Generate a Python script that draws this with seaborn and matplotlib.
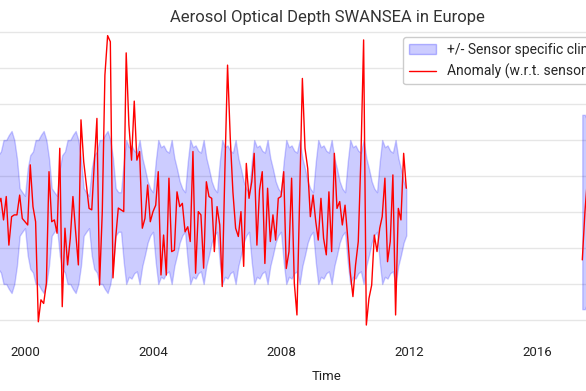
import numpy as np
import pandas as pd
import matplotlib
matplotlib.use("Agg")
import matplotlib.pyplot as plt
import matplotlib.dates as mdates
import matplotlib.ticker as mticker
from matplotlib.patches import Patch
from matplotlib.lines import Line2D
import seaborn as sns

sns.set_theme(style="white")
plt.rcParams['font.family'] = ['Roboto', 'DejaVu Sans']

# ---------------- data ----------------
# monthly climatology std (Jan..Dec) per sensor
atsr2_clim = [0.045, 0.121, 0.158, 0.168, 0.200, 0.200, 0.214, 0.225, 0.200, 0.149, 0.066, 0.055]
aatsr_clim = [0.055, 0.140, 0.200, 0.180, 0.185, 0.170, 0.165, 0.200, 0.150, 0.120, 0.085, 0.065]
aatsr_first_month = "2003-01-01"

# monthly anomaly, Mar 1999 .. Dec 2011
anomaly_start = "1999-03-01"
anomaly = [
    0.019, 0.038, -0.022, 0.043, -0.092, -0.013, -0.008, -0.008, 0.047, -0.018,
    -0.027, -0.036, 0.131, 0.015, -0.027, -0.305, -0.244, -0.254, -0.198, 0.112, -0.027, -0.022,
    -0.059, 0.177, -0.263, -0.045, -0.147, -0.073, 0.043, -0.055, -0.147, 0.256, 0.140, 0.075,
    0.010, 0.006, 0.131, 0.260, -0.203, 0.000, 0.380, 0.490, 0.473, -0.183, -0.072, 0.011,
    0.006, 0.001, 0.442, 0.242, 0.144, 0.308, 0.144, 0.168, -0.045, -0.018, 0.075, -0.027,
    0.001, 0.019, 0.112, -0.175, -0.064, -0.175, 0.094, -0.110, -0.106, 0.056, 0.015, 0.024,
    -0.055, -0.041, -0.082, 0.168, -0.170, 0.001, -0.008, -0.156, 0.084, 0.043, 0.038, -0.110,
    0.015, -0.036, -0.207, 0.121, 0.408, 0.205, 0.056, -0.045, -0.068, 0.001, -0.151, 0.135,
    0.038, 0.084, 0.163, -0.092, 0.061, 0.112, -0.143, 0.066, -0.082, -0.008, -0.078, 0.038,
    0.043, 0.112, -0.157, -0.110, 0.094, -0.198, -0.286, 0.043, 0.371, 0.177, 0.121, -0.013,
    0.047, -0.027, -0.078, 0.038, -0.073, -0.119, 0.056, -0.110, 0.163, 0.010, 0.029, -0.036,
    0.019, -0.073, -0.166, -0.235, -0.147, -0.082, 0.150, 0.478, -0.314, -0.240, -0.203, -0.064,
    -0.110, -0.045, -0.013, 0.094, -0.138, -0.082, 0.103, -0.286, 0.010, -0.022, 0.163, 0.066,
]

# third sensor (starts mid 2017)
slstr_start = "2017-06-01"
slstr_anomaly = [-0.133, 0.000, 0.100]
slstr_clim = [0.270, 0.270, 0.250]

tick_years = [2000, 2004, 2008, 2012, 2016]

title = "Aerosol Optical Depth SWANSEA in Europe"
band_label = "+/- Sensor specific climatology"
line_label = "Anomaly (w.r.t. sensor specific climatology)"

# ---------------- frames ----------------
dates1 = pd.date_range(anomaly_start, periods=len(anomaly), freq="MS")
clim1 = [aatsr_clim[d.month - 1] if d >= pd.Timestamp(aatsr_first_month)
         else atsr2_clim[d.month - 1] for d in dates1]
df1 = pd.DataFrame({"date": dates1, "anomaly": anomaly, "std": clim1})

dates2 = pd.date_range(slstr_start, periods=len(slstr_anomaly), freq="MS")
df2 = pd.DataFrame({"date": dates2, "anomaly": slstr_anomaly, "std": slstr_clim})

# ---------------- figure ----------------
W, H = 586, 391
fig = plt.figure(figsize=(W / 100, H / 100), dpi=100)
L_px, R_px, T_px, B_px = -90, 744, 30, 338
ax = fig.add_axes([L_px / W, 1 - B_px / H, (R_px - L_px) / W, (B_px - T_px) / H])

band_color = "blue"
for df in (df1, df2):
    ax.fill_between(df["date"], -df["std"], df["std"], color=band_color, alpha=0.2, lw=1)
    sns.lineplot(data=df, x="date", y="anomaly", color="red", lw=1, ax=ax)

px_per_year = 32.0
x2000_px = 25.0
t2000 = pd.Timestamp("2000-01-01")
def px_to_date(p):
    return t2000 + pd.Timedelta(days=365.25 * (p - x2000_px) / px_per_year)
ax.set_xlim(px_to_date(L_px), px_to_date(R_px))
y_per_px = 0.1 / 36
ax.set_ylim(-(B_px - 212) * y_per_px, (212 - T_px) * y_per_px)

ax.xaxis.set_major_locator(mticker.FixedLocator(
    [mdates.date2num(pd.Timestamp(f"{y}-01-01")) for y in tick_years]))
ax.xaxis.set_major_formatter(mdates.DateFormatter("%Y"))
ax.yaxis.set_major_locator(mticker.MultipleLocator(0.1))
ax.tick_params(axis="y", labelleft=False)
ax.grid(axis="y", color="#e6e6e6", lw=1)
ax.grid(axis="x", visible=False)
for s in ax.spines.values():
    s.set_visible(False)
ax.tick_params(axis="x", length=0, labelsize=9.5, labelcolor="#222222", pad=6)
ax.set_xlabel("Time", fontsize=9.5, color="#222222", labelpad=8)
ax.set_ylabel("")
ax.set_title(title, fontsize=12, color="#333333", pad=6)

handles = [Patch(facecolor=(0, 0, 1, 0.2), edgecolor=(0, 0, 1, 0.25), lw=1),
           Line2D([], [], color="red", lw=1)]
ax.legend(handles, [band_label, line_label], loc="upper left",
          bbox_to_anchor=(403 / W, 1 - 37 / H), bbox_transform=fig.transFigure,
          borderaxespad=0, fontsize=10, frameon=True, fancybox=True,
          edgecolor="#cccccc", framealpha=1, handlelength=2.0)

fig.savefig("out.png", dpi=100)
